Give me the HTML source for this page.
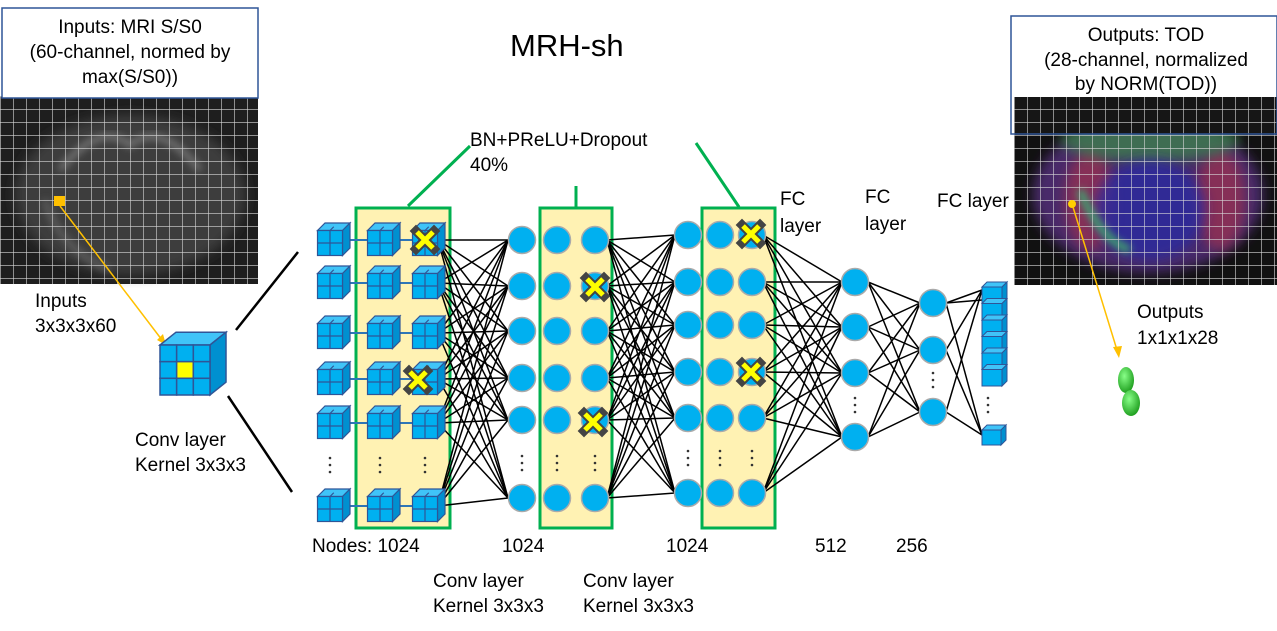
<!DOCTYPE html>
<html><head><meta charset="utf-8"><style>
html,body{margin:0;padding:0;background:#fff;}
svg{display:block;font-family:"Liberation Sans",Arial,sans-serif;}
</style></head><body>
<svg id="s" width="1277" height="631" viewBox="0 0 1277 631" xmlns="http://www.w3.org/2000/svg">
<defs>
<filter id="bl" x="-20%" y="-20%" width="140%" height="140%"><feGaussianBlur stdDeviation="6"/></filter>
<filter id="bl2" x="-20%" y="-20%" width="140%" height="140%"><feGaussianBlur stdDeviation="4"/></filter>
<pattern id="grid" width="13" height="13" patternUnits="userSpaceOnUse" x="0" y="96"><path d="M0 0H13M0 0V13" stroke="#d8d8d8" stroke-width="1.2" fill="none"/></pattern>
<radialGradient id="lobe" cx="40%" cy="35%" r="70%"><stop offset="0" stop-color="#8f8"/><stop offset="1" stop-color="#1a9a1a"/></radialGradient>
</defs>
<rect x="0" y="96" width="258" height="188" fill="#1e1e1e"/>
<ellipse cx="130" cy="195" rx="115" ry="80" fill="#3c3c3c" filter="url(#bl)"/>
<path d="M60 170 Q100 120 130 145 Q160 120 200 170" stroke="#777" stroke-width="6" fill="none" filter="url(#bl2)"/>
<path d="M45 200 Q60 250 110 270" stroke="#666" stroke-width="5" fill="none" filter="url(#bl2)"/>
<rect x="0" y="96" width="258" height="188" fill="url(#grid)"/>
<rect x="2" y="8" width="256" height="90" fill="#fff" stroke="#2f5597" stroke-width="1.5"/>
<g font-size="19" text-anchor="middle">
<text x="130" y="33">Inputs:  MRI S/S0</text>
<text x="130" y="58">(60-channel, normed by</text>
<text x="130" y="83">max(S/S0))</text>
</g>
<rect x="54" y="196" width="11" height="10" fill="#ffc000"/>
<line x1="60" y1="206" x2="162" y2="340" stroke="#ffc000" stroke-width="1.5"/>
<polygon points="166,345 157,340 163,334" fill="#ffc000"/>
<rect x="1014" y="97" width="263" height="188" fill="#111"/>
<ellipse cx="1148" cy="195" rx="115" ry="78" fill="#4a2a6a" filter="url(#bl)"/>
<ellipse cx="1090" cy="200" rx="25" ry="50" fill="#a03050" opacity=".7" filter="url(#bl)"/>
<ellipse cx="1220" cy="200" rx="25" ry="50" fill="#a03050" opacity=".7" filter="url(#bl)"/>
<ellipse cx="1150" cy="140" rx="90" ry="22" fill="#3a8a4a" opacity=".7" filter="url(#bl)"/>
<ellipse cx="1150" cy="210" rx="55" ry="50" fill="#2a2aa0" opacity=".8" filter="url(#bl)"/>
<path d="M1080 190 Q1100 240 1130 250" stroke="#3fa070" stroke-width="8" fill="none" filter="url(#bl2)"/>
<rect x="1014" y="97" width="263" height="188" fill="url(#grid)"/>
<rect x="1014" y="97" width="263" height="37" fill="#161616"/>
<rect x="1014" y="97" width="263" height="37" fill="url(#grid)"/>
<rect x="1012" y="17" width="264" height="80" fill="#fff"/>
<rect x="1011" y="16" width="266" height="118" fill="none" stroke="#2f5597" stroke-width="1.5"/>
<g font-size="19" text-anchor="middle">
<text x="1146" y="41">Outputs: TOD</text>
<text x="1146" y="66">(28-channel, normalized</text>
<text x="1146" y="90">by NORM(TOD))</text>
</g>
<circle cx="1072" cy="204" r="4" fill="#ffd000"/>
<line x1="1073" y1="207" x2="1117" y2="350" stroke="#ffc000" stroke-width="1.5"/>
<polygon points="1119,358 1113,347 1122,346" fill="#ffc000"/>
<ellipse cx="1126" cy="380" rx="8" ry="13" fill="url(#lobe)"/>
<ellipse cx="1131" cy="403" rx="9" ry="13" fill="url(#lobe)"/>
<text x="510" y="56" font-size="31">MRH-sh</text>
<g font-size="19">
<text x="470" y="146">BN+PReLU+Dropout</text>
<text x="470" y="171">40%</text>
<text x="780" y="205">FC</text><text x="780" y="232">layer</text>
<text x="865" y="203">FC</text><text x="865" y="230">layer</text>
<text x="937" y="207">FC layer</text>
<text x="35" y="307">Inputs</text><text x="35" y="332">3x3x3x60</text>
<text x="135" y="446">Conv layer</text><text x="135" y="471">Kernel 3x3x3</text>
<text x="312" y="552">Nodes: 1024</text>
<text x="502" y="552">1024</text>
<text x="666" y="552">1024</text>
<text x="815" y="552">512</text>
<text x="896" y="552">256</text>
<text x="433" y="587">Conv layer</text><text x="433" y="612">Kernel 3x3x3</text>
<text x="583" y="587">Conv layer</text><text x="583" y="612">Kernel 3x3x3</text>
<text x="1137" y="318">Outputs</text><text x="1137" y="344">1x1x1x28</text>
</g>
<line x1="408" y1="206" x2="470" y2="146" stroke="#00b050" stroke-width="3"/>
<line x1="576" y1="186" x2="576" y2="207" stroke="#00b050" stroke-width="3"/>
<line x1="696" y1="143" x2="739" y2="207" stroke="#00b050" stroke-width="3"/>
<line x1="236" y1="330" x2="298" y2="252" stroke="#000" stroke-width="2.5"/>
<line x1="228" y1="396" x2="292" y2="492" stroke="#000" stroke-width="2.5"/>
<rect x="356" y="208" width="94" height="320" fill="#fff2b3" stroke="#00b050" stroke-width="3"/>
<rect x="540" y="208" width="72" height="320" fill="#fff2b3" stroke="#00b050" stroke-width="3"/>
<rect x="702" y="208" width="73" height="320" fill="#fff2b3" stroke="#00b050" stroke-width="3"/>
<g id="g"></g>
</svg>
<script>
var g=document.getElementById('g'),h='';
function L(a,b,c,d,w,col){h+='<line x1="'+a+'" y1="'+b+'" x2="'+c+'" y2="'+d+'" stroke="'+(col||'#000')+'" stroke-width="'+(w||1.5)+'"/>';}
function C(x,y){h+='<circle cx="'+x+'" cy="'+y+'" r="13.5" fill="#00b0f0" stroke="#aaa" stroke-width="1.5"/>';}
function X(x,y){h+='<g transform="translate('+x+','+y+')"><path d="M-9-9L9 9M9-9L-9 9" stroke="#444" stroke-width="9" stroke-linecap="square"/><path d="M-8-8L8 8M8-8L-8 8" stroke="#ffff00" stroke-width="5"/></g>';}
function D(x,y){for(var i=-1;i<=1;i++)h+='<circle cx="'+x+'" cy="'+(y+i*7)+'" r="1.3" fill="#333"/>';}
function cube(cx,cy,s){
 var x=cx-s/2,y=cy-s/2+3,d=s*0.3,st='stroke="#2f5597" stroke-width="1.2"';
 h+='<polygon points="'+x+','+y+' '+(x+d)+','+(y-d)+' '+(x+s+d)+','+(y-d)+' '+(x+s)+','+y+'" fill="#40c4f8" '+st+'/>';
 h+='<polygon points="'+(x+s)+','+y+' '+(x+s+d)+','+(y-d)+' '+(x+s+d)+','+(y+s-d)+' '+(x+s)+','+(y+s)+'" fill="#0090d0" '+st+'/>';
 h+='<rect x="'+x+'" y="'+y+'" width="'+s+'" height="'+s+'" fill="#00b0f0" '+st+'/>';
 L(x+s/2,y,x+s/2,y+s,1.2,'#2f5597');L(x,y+s/2,x+s,y+s/2,1.2,'#2f5597');
 L(x+s/2+d/2,y-d/2,x+s/2,y,1.2,'#2f5597');
}
function bigcube(){var x=160,y=345,s=50,d=16,st='stroke="#2f5597" stroke-width="1.5"';
 h+='<polygon points="'+x+','+y+' '+(x+d)+','+(y-d*0.8)+' '+(x+s+d)+','+(y-d*0.8)+' '+(x+s)+','+y+'" fill="#40c4f8" '+st+'/>';
 h+='<polygon points="'+(x+s)+','+y+' '+(x+s+d)+','+(y-d*0.8)+' '+(x+s+d)+','+(y+s-d*0.8)+' '+(x+s)+','+(y+s)+'" fill="#0090d0" '+st+'/>';
 for(var i=0;i<3;i++)for(var j=0;j<3;j++)h+='<rect x="'+(x+i*s/3)+'" y="'+(y+j*s/3)+'" width="'+(s/3)+'" height="'+(s/3)+'" fill="'+(i==1&&j==1?'#ffff00':'#00b0f0')+'" '+st+'/>';
}
bigcube();
var cy=[240,283,333,379,423,506];
var y1=[240,286,331,378,420,498];
cy.forEach(function(a){y1.forEach(function(b){L(438,a,508,b);});});
var y2=[235,282,325,372,418,493];
y1.forEach(function(a){y2.forEach(function(b){L(607,a,675,b);});});
var y4=[282,327,373,437];
y2.forEach(function(a){y4.forEach(function(b){L(763,a,842,b);});});
var y5=[303,350,412];
y4.forEach(function(a){y5.forEach(function(b){L(868,a,920,b);});});
var y6=[290,435];
y5.forEach(function(a){y6.forEach(function(b){L(946,a,982,b);});});
L(946,303,982,300);
cy.forEach(function(y){L(325,y,425,y,2,'#2e75b6');cube(330,y,25);cube(380,y,25);cube(425,y,25);});
X(425,240);X(418,380);
[522,557,595].forEach(function(x){y1.forEach(function(y){C(x,y);});D(x,463);});
X(595,287);X(593,422);
[688,720,752].forEach(function(x){y2.forEach(function(y){C(x,y);});D(x,458);});
X(751,234);X(751,372);
D(330,465);D(380,465);D(425,465);
y4.forEach(function(y){C(855,y);});D(855,405);
y5.forEach(function(y){C(933,y);});D(933,380);
for(var k=0;k<6;k++){var yy=287+k*16.5;h+='<polygon points="982,'+yy+' 987,'+(yy-5)+' 1007,'+(yy-5)+' 1002,'+yy+'" fill="#40c4f8" stroke="#2f5597"/><polygon points="1002,'+yy+' 1007,'+(yy-5)+' 1007,'+(yy+11.5)+' 1002,'+(yy+16.5)+'" fill="#0090d0" stroke="#2f5597"/><rect x="982" y="'+yy+'" width="20" height="16.5" fill="#00b0f0" stroke="#2f5597"/>';}
h+='<polygon points="982,430 987,425 1006,425 1001,430" fill="#40c4f8" stroke="#2f5597"/><polygon points="1001,430 1006,425 1006,440 1001,445" fill="#0090d0" stroke="#2f5597"/><rect x="982" y="430" width="19" height="15" fill="#00b0f0" stroke="#2f5597"/>';
D(988,405);
g.innerHTML=h;
</script>
</body></html>
